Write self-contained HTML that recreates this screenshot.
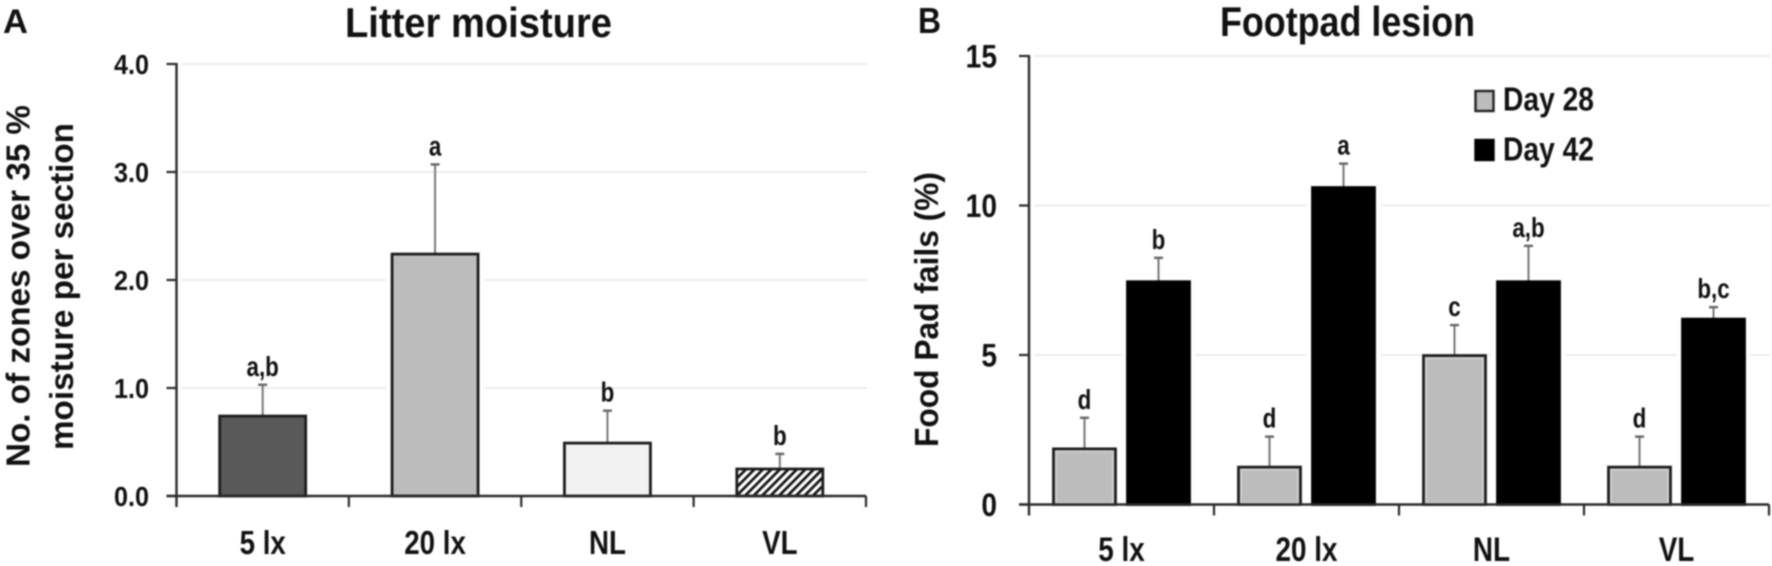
<!DOCTYPE html>
<html lang="en">
<head>
<meta charset="utf-8">
<title>Litter moisture and footpad lesion</title>
<style>
html,body{margin:0;padding:0;background:#fff;width:1772px;height:566px;overflow:hidden}
svg{display:block;filter:blur(0.7px)}
text{font-family:"Liberation Sans",sans-serif;font-weight:700;fill:#111}
</style>
</head>
<body>
<svg id="chart" xmlns="http://www.w3.org/2000/svg" width="1772" height="566" viewBox="0 0 1772 566">
<defs>
<pattern id="hatch" patternUnits="userSpaceOnUse" width="6" height="6" patternTransform="rotate(45)">
<rect width="6" height="6" fill="#fff"/>
<rect width="2.7" height="6" fill="#111"/>
</pattern>
</defs>
</svg>
<script>
var categories = ['5 lx', '20 lx', 'NL', 'VL'];
var moistureValues = [0.74, 2.24, 0.49, 0.25];
var moistureErrorTops = [1.03, 3.07, 0.79, 0.39];
var moistureLetters = ['a,b', 'a', 'b', 'b'];
var moistureTicks = [0, 1, 2, 3, 4];
var moistureTickLabels = ['0.0', '1.0', '2.0', '3.0', '4.0'];
var day28Values = [1.86, 1.25, 4.98, 1.25];
var day28ErrorTops = [2.9, 2.27, 6, 2.27];
var day28Letters = ['d', 'd', 'c', 'd'];
var day42Values = [7.45, 10.6, 7.45, 6.2];
var day42ErrorTops = [8.25, 11.4, 8.65, 6.6];
var day42Letters = ['b', 'a', 'a,b', 'b,c'];
var footpadTicks = [0, 5, 10, 15];
var footpadTickLabels = ['0', '5', '10', '15'];

var svg = document.getElementById('chart');
var NS = 'http://www.w3.org/2000/svg';

function make(tag, attrs, parent) {
  var el = document.createElementNS(NS, tag);
  for (var k in attrs) el.setAttribute(k, attrs[k]);
  (parent || svg).appendChild(el);
  return el;
}
function label(str, x, y, size, anchor, sx, fit, rotate) {
  var t = 'translate(' + x + ',' + y + ')' + (rotate ? ' rotate(-90)' : '') + ' scale(' + sx + ',1)';
  var attrs = {transform: t, 'font-size': size, 'text-anchor': anchor};
  if (fit) { attrs.textLength = fit; attrs.lengthAdjust = 'spacingAndGlyphs'; }
  var el = make('text', attrs);
  el.textContent = str;
  return el;
}

var panelA = {x0: 176.5, x1: 866, y0: 496, unit: 108, barW: 86};
var panelB = {x0: 1029, x1: 1769, y0: 504.5, unit: 29.9, barW: 62};
function yA(v) { return panelA.y0 - v * panelA.unit; }
function yB(v) { return panelB.y0 - v * panelB.unit; }
function band(p, i) { return p.x0 + (p.x1 - p.x0) * (i + 0.5) / categories.length; }

function drawGrid(p, ticks, yFn, name) {
  ticks.forEach(function (t) {
    if (t === 0) return;
    var line = make('line', {x1: p.x0 + 5, x2: p.x1 + 1, y1: yFn(t), y2: yFn(t), stroke: '#ececec', 'stroke-width': 2});
    
    
  });
}
function drawAxes(p, ticks, tickLabels, yFn, name, tickSize, tickSx, tickRight) {
  var ink = '#2a2a2a';
  var yAxis = make('line', {x1: p.x0, x2: p.x0, y1: yFn(ticks[ticks.length - 1]) - 1, y2: p.y0 + 11, stroke: ink, 'stroke-width': 2.4});
  
  
  var xAxis = make('line', {x1: p.x0 - 10, x2: p.x1, y1: p.y0, y2: p.y0, stroke: ink, 'stroke-width': 2.4});
  
  
  ticks.forEach(function (t, i) {
    var y = yFn(t);
    make('line', {x1: p.x0 - 10, x2: p.x0, y1: y, y2: y, stroke: ink, 'stroke-width': 2.2});
    var tl = label(tickLabels[i], tickRight, y + tickSize * 0.36, tickSize, 'end', tickSx);
    
    
  });
  for (var i = 1; i <= categories.length; i++) {
    var x = p.x0 + (p.x1 - p.x0) * i / categories.length;
    make('line', {x1: x, x2: x, y1: p.y0, y2: p.y0 + 11, stroke: ink, 'stroke-width': 2.2});
  }
}
function drawBar(cx, w, yTop, y0, fill, stroke, errTop, letter, name, inner) {
  var halo = make('rect', {x: cx - w / 2 - 6, y: yTop, width: w + 12, height: y0 - yTop, fill: '#fff'});
  
  
  var err = make('line', {x1: cx, x2: cx, y1: errTop, y2: yTop, stroke: '#777', 'stroke-width': 2});
  
  
  make('line', {x1: cx - 4.5, x2: cx + 4.5, y1: errTop, y2: errTop, stroke: '#666', 'stroke-width': 2.4});
  var bar = make('rect', {x: cx - w / 2, y: yTop, width: w, height: y0 - yTop, fill: fill, stroke: stroke, 'stroke-width': 2.8});
  
  
  if (inner) make('rect', {x: cx - w / 2 + 2.5, y: yTop + 2.5, width: w - 5, height: y0 - yTop - 4, fill: 'none', stroke: inner, 'stroke-width': 2});
  var l = label(letter, cx, errTop - 9, 28, 'middle', 0.8);
  
  
}

/* Panel A */
drawGrid(panelA, moistureTicks, yA, 'moisture');
var fillsA = ['#595959', '#bcbcbc', '#f2f2f2', 'url(#hatch)'];
categories.forEach(function (c, i) {
  drawBar(band(panelA, i), panelA.barW, yA(moistureValues[i]), panelA.y0, fillsA[i], '#1c1c1c', yA(moistureErrorTops[i]), moistureLetters[i], 'moisture-bar-' + i, null);
  var xl = label(c, band(panelA, i), 554, 33, 'middle', 0.84);
  
  
});
drawAxes(panelA, moistureTicks, moistureTickLabels, yA, 'moisture', 28, 0.9, 149);

/* Panel B */
drawGrid(panelB, footpadTicks, yB, 'footpad');
categories.forEach(function (c, i) {
  var mid = band(panelB, i);
  drawBar(mid - 37, panelB.barW, yB(day28Values[i]), panelB.y0, '#bcbcbc', '#1c1c1c', yB(day28ErrorTops[i]), day28Letters[i], 'day28-bar-' + i, '#cfcfcf');
  drawBar(mid + 37, panelB.barW, yB(day42Values[i]), panelB.y0, '#000', '#000', yB(day42ErrorTops[i]), day42Letters[i], 'day42-bar-' + i, null);
  var xl = label(c, mid, 561, 34, 'middle', 0.82);
  
  
});
drawAxes(panelB, footpadTicks, footpadTickLabels, yB, 'footpad', 32, 0.88, 997);

/* Titles */
var e;
e = label('A', 3, 33, 34, 'start', 1, 25);


e = label('B', 918, 33, 36, 'start', 1, 23);


e = label('Litter moisture', 345, 37, 42, 'start', 1, 267);


e = label('Footpad lesion', 1220, 36, 42, 'start', 1, 255);


e = label('No. of zones over 35 %', 29.5, 467, 33, 'start', 1, 362, true);


e = label('moisture per section', 73, 450, 33, 'start', 1, 327, true);


e = label('Food Pad fails (%)', 938, 447, 33, 'start', 1, 275, true);



/* Legend */
var legendSwatch28 = make('rect', {x: 1475.5, y: 91, width: 18, height: 20, fill: '#bcbcbc', stroke: '#222', 'stroke-width': 2.4});


var legendSwatch42 = make('rect', {x: 1475.5, y: 140, width: 18, height: 20, fill: '#000', stroke: '#000', 'stroke-width': 2.4});


e = label('Day 28', 1503, 110.5, 33, 'start', 1, 91);


e = label('Day 42', 1503, 160.5, 33, 'start', 1, 91);


</script>
</body>
</html>
